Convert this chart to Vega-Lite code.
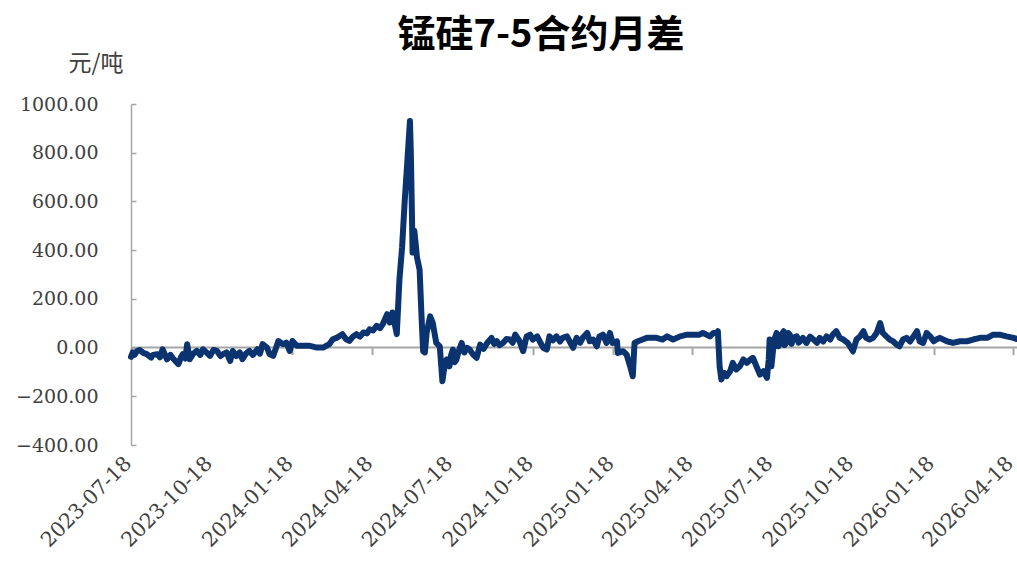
{
  "$schema": "https://vega.github.io/schema/vega-lite/v6.json",
  "width": 886,
  "height": 341,
  "autosize": {"type": "none"},
  "padding": {"left": 131, "top": 104, "right": 0, "bottom": 118},
  "background": "white",
  "config": {"view": {"stroke": null}},
  "title": {"text": "锰硅7-5合约月差", "font": "Noto Sans CJK SC", "fontSize": 38, "fontWeight": "bold", "color": "#000000", "anchor": "middle", "frame": "group", "dx": -33, "offset": -3},
  "data": {"values": [
    {"d":"2023-07-18","v":-38},{"d":"2023-07-20","v":-20},{"d":"2023-07-22","v":-30},{"d":"2023-07-25","v":-14},{"d":"2023-07-28","v":-10},
    {"d":"2023-08-01","v":-22},{"d":"2023-08-05","v":-27},{"d":"2023-08-10","v":-41},{"d":"2023-08-12","v":-30},{"d":"2023-08-17","v":-27},
    {"d":"2023-08-20","v":-40},{"d":"2023-08-23","v":-7},{"d":"2023-08-28","v":-48},{"d":"2023-09-01","v":-30},{"d":"2023-09-04","v":-45},{"d":"2023-09-10","v":-68},
    {"d":"2023-09-13","v":-40},{"d":"2023-09-15","v":-27},{"d":"2023-09-18","v":-45},{"d":"2023-09-20","v":14},{"d":"2023-09-23","v":-48},{"d":"2023-09-27","v":-25},{"d":"2023-10-01","v":-14},
    {"d":"2023-10-05","v":-30},{"d":"2023-10-08","v":-7},{"d":"2023-10-12","v":-20},{"d":"2023-10-16","v":-34},{"d":"2023-10-20","v":-10},{"d":"2023-10-24","v":-14},{"d":"2023-10-28","v":-35},{"d":"2023-10-31","v":-27},
    {"d":"2023-11-04","v":-20},{"d":"2023-11-08","v":-55},{"d":"2023-11-11","v":-14},{"d":"2023-11-15","v":-35},{"d":"2023-11-19","v":-20},{"d":"2023-11-22","v":-48},
    {"d":"2023-11-26","v":-25},{"d":"2023-11-30","v":-14},{"d":"2023-12-04","v":-30},{"d":"2023-12-09","v":-7},{"d":"2023-12-12","v":-25},{"d":"2023-12-15","v":14},{"d":"2023-12-20","v":0},
    {"d":"2023-12-23","v":-27},{"d":"2023-12-27","v":-34},{"d":"2023-12-30","v":-5},{"d":"2024-01-02","v":27},{"d":"2024-01-07","v":14},
    {"d":"2024-01-11","v":20},{"d":"2024-01-15","v":-14},{"d":"2024-01-18","v":27},{"d":"2024-01-23","v":7},{"d":"2024-01-30","v":7},
    {"d":"2024-02-07","v":7},{"d":"2024-02-15","v":0},{"d":"2024-02-22","v":0},{"d":"2024-02-29","v":14},
    {"d":"2024-03-04","v":34},{"d":"2024-03-09","v":41},{"d":"2024-03-15","v":55},{"d":"2024-03-19","v":35},{"d":"2024-03-23","v":27},
    {"d":"2024-03-27","v":45},{"d":"2024-03-31","v":55},{"d":"2024-04-04","v":45},{"d":"2024-04-08","v":62},{"d":"2024-04-12","v":58},{"d":"2024-04-15","v":75},{"d":"2024-04-19","v":70},{"d":"2024-04-23","v":89},
    {"d":"2024-04-27","v":80},{"d":"2024-04-30","v":96},{"d":"2024-05-05","v":137},{"d":"2024-05-08","v":103},{"d":"2024-05-11","v":144},
    {"d":"2024-05-16","v":55},{"d":"2024-05-19","v":279},{"d":"2024-05-22","v":410},{"d":"2024-05-25","v":600},
    {"d":"2024-05-29","v":820},{"d":"2024-05-31","v":930},{"d":"2024-06-01","v":800},{"d":"2024-06-02","v":600},
    {"d":"2024-06-03","v":390},{"d":"2024-06-05","v":480},{"d":"2024-06-08","v":370},{"d":"2024-06-11","v":320},
    {"d":"2024-06-13","v":143},{"d":"2024-06-15","v":-15},{"d":"2024-06-17","v":-20},{"d":"2024-06-19","v":60},
    {"d":"2024-06-23","v":128},{"d":"2024-06-26","v":101},{"d":"2024-06-30","v":19},{"d":"2024-07-04","v":5},
    {"d":"2024-07-07","v":-138},{"d":"2024-07-10","v":-60},{"d":"2024-07-12","v":-49},{"d":"2024-07-15","v":-77},{"d":"2024-07-17","v":-30},{"d":"2024-07-19","v":-8},
    {"d":"2024-07-21","v":-60},{"d":"2024-07-23","v":-49},{"d":"2024-07-26","v":-10},{"d":"2024-07-29","v":19},{"d":"2024-08-01","v":-20},{"d":"2024-08-04","v":-1},{"d":"2024-08-07","v":-8},
    {"d":"2024-08-11","v":-29},{"d":"2024-08-15","v":-42},{"d":"2024-08-19","v":12},{"d":"2024-08-23","v":-5},{"d":"2024-08-27","v":19},
    {"d":"2024-09-01","v":40},{"d":"2024-09-04","v":15},{"d":"2024-09-07","v":26},{"d":"2024-09-10","v":10},{"d":"2024-09-14","v":19},{"d":"2024-09-18","v":35},{"d":"2024-09-22","v":33},
    {"d":"2024-09-25","v":20},{"d":"2024-09-28","v":53},{"d":"2024-10-03","v":26},{"d":"2024-10-07","v":-15},{"d":"2024-10-11","v":46},
    {"d":"2024-10-15","v":53},{"d":"2024-10-18","v":33},{"d":"2024-10-23","v":46},{"d":"2024-10-26","v":25},{"d":"2024-10-30","v":-1},
    {"d":"2024-11-03","v":-8},{"d":"2024-11-06","v":46},{"d":"2024-11-10","v":30},{"d":"2024-11-14","v":46},{"d":"2024-11-18","v":25},{"d":"2024-11-21","v":40},
    {"d":"2024-11-26","v":46},{"d":"2024-11-29","v":26},{"d":"2024-12-03","v":-1},{"d":"2024-12-07","v":40},
    {"d":"2024-12-11","v":20},{"d":"2024-12-14","v":40},{"d":"2024-12-19","v":60},{"d":"2024-12-22","v":26},{"d":"2024-12-26","v":33},
    {"d":"2024-12-30","v":5},{"d":"2025-01-02","v":46},{"d":"2025-01-06","v":53},{"d":"2025-01-10","v":19},
    {"d":"2025-01-14","v":60},{"d":"2025-01-17","v":19},{"d":"2025-01-22","v":26},{"d":"2025-01-23","v":-22},
    {"d":"2025-01-29","v":-15},{"d":"2025-02-02","v":-29},{"d":"2025-02-06","v":-77},{"d":"2025-02-09","v":-118},
    {"d":"2025-02-11","v":19},{"d":"2025-02-15","v":26},{"d":"2025-02-20","v":33},{"d":"2025-02-25","v":40},
    {"d":"2025-02-28","v":40},{"d":"2025-03-08","v":40},{"d":"2025-03-15","v":33},{"d":"2025-03-20","v":46},
    {"d":"2025-03-27","v":33},{"d":"2025-04-04","v":46},{"d":"2025-04-12","v":53},{"d":"2025-04-18","v":53},
    {"d":"2025-04-26","v":53},{"d":"2025-04-30","v":60},{"d":"2025-05-04","v":53},{"d":"2025-05-08","v":46},
    {"d":"2025-05-12","v":60},{"d":"2025-05-16","v":60},{"d":"2025-05-17","v":67},{"d":"2025-05-19","v":-77},
    {"d":"2025-05-21","v":-131},{"d":"2025-05-24","v":-104},{"d":"2025-05-27","v":-117},{"d":"2025-05-31","v":-97},
    {"d":"2025-06-03","v":-63},{"d":"2025-06-07","v":-90},{"d":"2025-06-11","v":-77},{"d":"2025-06-15","v":-49},
    {"d":"2025-06-19","v":-63},{"d":"2025-06-23","v":-49},{"d":"2025-06-26","v":-42},{"d":"2025-06-30","v":-77},
    {"d":"2025-07-04","v":-111},{"d":"2025-07-08","v":-97},{"d":"2025-07-12","v":-124},{"d":"2025-07-14","v":-49},
    {"d":"2025-07-15","v":33},{"d":"2025-07-17","v":-77},{"d":"2025-07-19","v":-8},{"d":"2025-07-21","v":40},{"d":"2025-07-23","v":60},
    {"d":"2025-07-25","v":5},{"d":"2025-07-27","v":19},{"d":"2025-07-29","v":55},{"d":"2025-07-31","v":67},{"d":"2025-08-01","v":10},{"d":"2025-08-03","v":19},{"d":"2025-08-05","v":60},{"d":"2025-08-07","v":53},
    {"d":"2025-08-09","v":15},{"d":"2025-08-11","v":40},{"d":"2025-08-15","v":46},{"d":"2025-08-17","v":20},{"d":"2025-08-19","v":26},{"d":"2025-08-22","v":40},
    {"d":"2025-08-26","v":19},{"d":"2025-08-30","v":45},{"d":"2025-09-03","v":33},{"d":"2025-09-07","v":20},{"d":"2025-09-10","v":40},{"d":"2025-09-14","v":25},{"d":"2025-09-18","v":46},
    {"d":"2025-09-22","v":33},{"d":"2025-09-25","v":53},{"d":"2025-09-29","v":67},{"d":"2025-10-03","v":40},
    {"d":"2025-10-07","v":33},{"d":"2025-10-12","v":19},{"d":"2025-10-18","v":-15},{"d":"2025-10-22","v":33},
    {"d":"2025-10-26","v":46},{"d":"2025-10-30","v":67},{"d":"2025-11-02","v":40},{"d":"2025-11-06","v":33},
    {"d":"2025-11-10","v":40},{"d":"2025-11-14","v":60},{"d":"2025-11-18","v":101},{"d":"2025-11-21","v":60},
    {"d":"2025-11-25","v":46},{"d":"2025-11-29","v":33},{"d":"2025-12-03","v":25},{"d":"2025-12-07","v":12},{"d":"2025-12-10","v":5},
    {"d":"2025-12-14","v":33},{"d":"2025-12-18","v":40},{"d":"2025-12-22","v":25},{"d":"2025-12-26","v":46},{"d":"2025-12-30","v":67},
    {"d":"2026-01-02","v":26},{"d":"2026-01-06","v":19},{"d":"2026-01-10","v":60},{"d":"2026-01-14","v":46},
    {"d":"2026-01-18","v":26},{"d":"2026-01-21","v":33},{"d":"2026-01-25","v":40},{"d":"2026-02-02","v":26},
    {"d":"2026-02-09","v":19},{"d":"2026-02-17","v":26},{"d":"2026-02-25","v":26},{"d":"2026-03-04","v":33},
    {"d":"2026-03-12","v":40},{"d":"2026-03-20","v":40},{"d":"2026-03-27","v":53},{"d":"2026-04-03","v":53},
    {"d":"2026-04-11","v":46},{"d":"2026-04-19","v":40},{"d":"2026-04-23","v":35}
  ]},
  "layer": [
    {
      "mark": {"type": "line", "color": "#a6a6a6", "strokeWidth": 2},
      "encoding": {
        "x": {"field": "d", "type": "temporal",
          "scale": {"domain": [{"year":2023,"month":7,"date":18},{"year":2026,"month":4,"date":23}]},
          "axis": {"orient": "bottom", "offset": -97.4, "domain": false, "ticks": true, "tickSize": 7, "tickColor": "#a6a6a6", "tickWidth": 2,
            "labels": false, "grid": false, "title": null,
            "values": [{"year":2023,"month":7,"date":18},{"year":2023,"month":10,"date":18},{"year":2024,"month":1,"date":18},{"year":2024,"month":4,"date":18},{"year":2024,"month":7,"date":18},{"year":2024,"month":10,"date":18},{"year":2025,"month":1,"date":18},{"year":2025,"month":4,"date":18},{"year":2025,"month":7,"date":18},{"year":2025,"month":10,"date":18},{"year":2026,"month":1,"date":18},{"year":2026,"month":4,"date":18}]}},
        "y": {"datum": 0, "type": "quantitative", "scale": {"domain": [-400, 1000]}, "axis": null}
      }
    },
    {
      "mark": {"type": "line", "color": "#0b3370", "strokeWidth": 6, "strokeJoin": "round", "strokeCap": "round"},
      "encoding": {
        "x": {"field": "d", "type": "temporal",
          "axis": {"orient": "bottom", "domain": false, "ticks": false, "grid": false, "title": null, "format": "%Y-%m-%d", "labelAngle": -45,
            "labelFont": "DejaVu Serif", "labelFontSize": 20.5, "labelColor": "#404040", "labelPadding": 15, "labelOffset": -3,
            "labelAlign": "right", "labelBaseline": "middle",
            "labelOverlap": false, "labelFlush": false,
            "values": [{"year":2023,"month":7,"date":18},{"year":2023,"month":10,"date":18},{"year":2024,"month":1,"date":18},{"year":2024,"month":4,"date":18},{"year":2024,"month":7,"date":18},{"year":2024,"month":10,"date":18},{"year":2025,"month":1,"date":18},{"year":2025,"month":4,"date":18},{"year":2025,"month":7,"date":18},{"year":2025,"month":10,"date":18},{"year":2026,"month":1,"date":18},{"year":2026,"month":4,"date":18}]}},
        "y": {"field": "v", "type": "quantitative",
          "axis": {"values": [-400, -200, 0, 200, 400, 600, 800, 1000], "format": ".2f", "grid": false,
            "domainColor": "#a6a6a6", "domainWidth": 1.5, "tickColor": "#a6a6a6", "tickWidth": 1.5, "tickSize": -5,
            "labelFont": "DejaVu Serif", "labelFontSize": 19, "labelColor": "#404040", "labelPadding": 38,
            "title": "元/吨", "titleAngle": 0, "titleX": -63, "titleY": -34, "titleAlign": "left", "titleBaseline": "alphabetic",
            "titleFont": "Noto Sans CJK SC", "titleFontSize": 23, "titleFontWeight": "normal", "titleColor": "#404040"}}
      }
    }
  ],
  "resolve": {"axis": {"x": "independent", "y": "independent"}}
}
